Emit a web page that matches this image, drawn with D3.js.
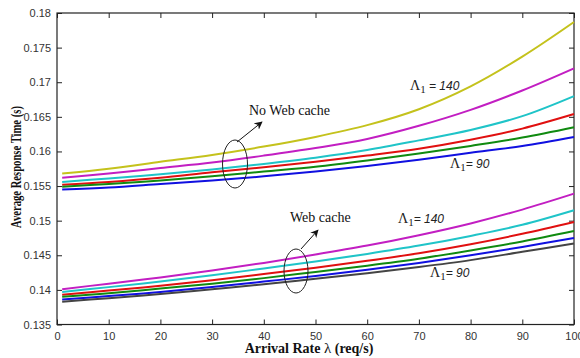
<!DOCTYPE html>
<html>
<head>
<meta charset="utf-8">
<script src="https://cdn.jsdelivr.net/npm/d3@7.9.0/dist/d3.min.js"></script>
<style>
  body { margin: 0; background: #fff; }
  svg { display: block; }
  .tick text { font-family: "Liberation Sans", Arial, sans-serif; font-size: 11px; fill: #333; }
  .axis-title { font-family: "Liberation Serif", "Times New Roman", serif; font-weight: bold; font-size: 14px; fill: #111; }
  .note { font-family: "Liberation Serif", "Times New Roman", serif; font-size: 14px; fill: #111; }
</style>
</head>
<body>
<svg id="chart" width="580" height="358"></svg>
<script>
// Arrival rate values (req/s)
const rates = [1, 10, 20, 30, 40, 50, 60, 70, 80, 90, 100];

// No Web cache group, Lambda1 = 140 down to 90
const noCacheYellow  = [0.1568, 0.1575, 0.1585, 0.1595, 0.1607, 0.1621, 0.1638, 0.1661, 0.1694, 0.1737, 0.1787];
const noCacheMagenta = [0.1562, 0.1568, 0.1576, 0.1584, 0.1594, 0.1605, 0.1618, 0.1637, 0.1660, 0.1688, 0.1720];
const noCacheCyan    = [0.1556, 0.1561, 0.1567, 0.1574, 0.1582, 0.1591, 0.1602, 0.1616, 0.1631, 0.1651, 0.1680];
const noCacheRed     = [0.1552, 0.1556, 0.1562, 0.1570, 0.1577, 0.1585, 0.1594, 0.1604, 0.1617, 0.1633, 0.1654];
const noCacheGreen   = [0.1549, 0.1553, 0.1558, 0.1564, 0.1571, 0.1578, 0.1587, 0.1597, 0.1608, 0.1620, 0.1635];
const noCacheBlue    = [0.1545, 0.1548, 0.1553, 0.1558, 0.1564, 0.1571, 0.1579, 0.1588, 0.1598, 0.1608, 0.1621];

// Web cache group
const cacheMagenta = [0.1401, 0.1409, 0.1418, 0.1428, 0.1439, 0.1451, 0.1464, 0.1479, 0.1496, 0.1516, 0.1539];
const cacheCyan    = [0.1397, 0.1404, 0.1412, 0.1421, 0.1431, 0.1441, 0.1452, 0.1464, 0.1478, 0.1494, 0.1515];
const cacheRed     = [0.1393, 0.1399, 0.1406, 0.1414, 0.1423, 0.1432, 0.1442, 0.1453, 0.1466, 0.1481, 0.1498];
const cacheGreen   = [0.1390, 0.1395, 0.1402, 0.1409, 0.1417, 0.1426, 0.1435, 0.1445, 0.1457, 0.1470, 0.1485];
const cacheBlue    = [0.1386, 0.1391, 0.1397, 0.1404, 0.1412, 0.1420, 0.1429, 0.1439, 0.1450, 0.1462, 0.1475];
const cacheGray    = [0.1383, 0.1388, 0.1394, 0.1401, 0.1408, 0.1416, 0.1424, 0.1433, 0.1443, 0.1455, 0.1467];

// Tick labels
const xTicks = [0, 10, 20, 30, 40, 50, 60, 70, 80, 90, 100];
const yTicks = [0.135, 0.14, 0.145, 0.15, 0.155, 0.16, 0.165, 0.17, 0.175, 0.18];

// Series list (values + colour)
const series = [
  { values: noCacheYellow, color: '#c4c21c' },
  { values: noCacheMagenta, color: '#c21ec2' },
  { values: noCacheCyan, color: '#1fc4c8' },
  { values: noCacheRed, color: '#e01010' },
  { values: noCacheGreen, color: '#108a10' },
  { values: noCacheBlue, color: '#1010e0' },
  { values: cacheMagenta, color: '#c21ec2' },
  { values: cacheCyan, color: '#1fc4c8' },
  { values: cacheRed, color: '#e01010' },
  { values: cacheGreen, color: '#108a10' },
  { values: cacheBlue, color: '#1010e0' },
  { values: cacheGray, color: '#444444' }
];

// Plot area
const margin = { left: 57, right: 6, top: 13, bottom: 33.5 };
const width = 580 - margin.left - margin.right;
const height = 358 - margin.top - margin.bottom;

const svg = d3.select('#chart');
const g = svg.append('g').attr('transform', `translate(${margin.left},${margin.top})`);

const x = d3.scaleLinear().domain([0, 100]).range([0, width]);
const y = d3.scaleLinear().domain([0.135, 0.18]).range([height, 0]);

// Axes with inward ticks (MATLAB style)
const fmtY = (d) => d3.format('.3~f')(d);
g.append('g')
  .attr('transform', `translate(0,${height})`)
  .call(d3.axisBottom(x).tickValues(xTicks).tickSizeInner(-5).tickSizeOuter(0).tickPadding(8))
  .call((a) => a.select('.domain').remove());
g.append('g')
  .call(d3.axisLeft(y).tickValues(yTicks).tickFormat(fmtY).tickSizeInner(-5).tickSizeOuter(0).tickPadding(6))
  .call((a) => a.select('.domain').remove());
g.append('g')
  .call(d3.axisTop(x).tickValues(xTicks).tickSizeInner(-5).tickSizeOuter(0).tickFormat(''))
  .call((a) => a.select('.domain').remove());
g.append('g')
  .attr('transform', `translate(${width},0)`)
  .call(d3.axisRight(y).tickValues(yTicks).tickSizeInner(-5).tickSizeOuter(0).tickFormat(''))
  .call((a) => a.select('.domain').remove());
g.selectAll('.tick line').attr('stroke', '#222');

// Frame
g.append('rect')
  .attr('width', width)
  .attr('height', height)
  .attr('fill', 'none')
  .attr('stroke', '#222')
  .attr('stroke-width', 1.2);

// Lines
const line = d3.line()
  .x((d, i) => x(rates[i]))
  .y((d) => y(d))
  .curve(d3.curveCatmullRom.alpha(0.5));

series.forEach((s) => {
  g.append('path')
    .attr('d', line(s.values))
    .attr('fill', 'none')
    .attr('stroke', s.color)
    .attr('stroke-width', 2);
});

// Axis titles
svg.append('text')
  .attr('class', 'axis-title')
  .attr('x', 309)
  .attr('y', 353)
  .attr('text-anchor', 'middle')
  .html('Arrival Rate <tspan font-weight="normal" font-size="15">&#955;</tspan> (req/s)');

// the source image is squashed vertically, so the rotated title is shorter
svg.append('text')
  .attr('class', 'axis-title')
  .attr('font-size', 15)
  .attr('transform', 'translate(21,167) scale(1,0.76) rotate(-90)')
  .attr('text-anchor', 'middle')
  .text('Average Response Time (s)');

// Annotations: ellipses + arrows
const defs = svg.append('defs');
defs.append('marker')
  .attr('id', 'arrow')
  .attr('viewBox', '0 0 10 10')
  .attr('refX', 9)
  .attr('refY', 5)
  .attr('markerWidth', 8)
  .attr('markerHeight', 8)
  .attr('orient', 'auto')
  .append('path')
  .attr('d', 'M0,0 L10,5 L0,10 L3,5 Z')
  .attr('fill', '#111');

function callout(cx, cy, rx, ry, x1, y1, x2, y2, label, lx, ly) {
  svg.append('ellipse')
    .attr('cx', cx).attr('cy', cy).attr('rx', rx).attr('ry', ry)
    .attr('fill', 'none').attr('stroke', '#222').attr('stroke-width', 1);
  svg.append('line')
    .attr('x1', x1).attr('y1', y1).attr('x2', x2).attr('y2', y2)
    .attr('stroke', '#111').attr('stroke-width', 1)
    .attr('marker-end', 'url(#arrow)');
  svg.append('text').attr('class', 'note').attr('x', lx).attr('y', ly).text(label);
}

callout(235, 164, 12.5, 24, 237, 142, 262, 122, 'No Web cache', 249, 115);
callout(296, 271, 12, 22, 301, 249, 318, 230, 'Web cache', 290, 222);

// Lambda labels
function lambdaLabel(lx, ly, value, spaced) {
  const t = svg.append('text').attr('x', lx).attr('y', ly).attr('fill', '#222');
  t.append('tspan')
    .attr('font-family', '"Liberation Serif", serif')
    .attr('font-size', 14)
    .text('\u039B');
  t.append('tspan')
    .attr('font-family', '"Liberation Serif", serif')
    .attr('font-size', 11)
    .attr('dy', 3)
    .text('1');
  t.append('tspan')
    .attr('font-family', '"Liberation Sans", sans-serif')
    .attr('font-size', 12)
    .attr('font-style', 'italic')
    .attr('dy', -3)
    .text((spaced ? ' = ' : '= ') + value);
}

lambdaLabel(410, 90, 140, true);
lambdaLabel(450, 168, 90, false);
lambdaLabel(398, 223, 140, false);
lambdaLabel(430, 277, 90, false);
</script>
</body>
</html>
